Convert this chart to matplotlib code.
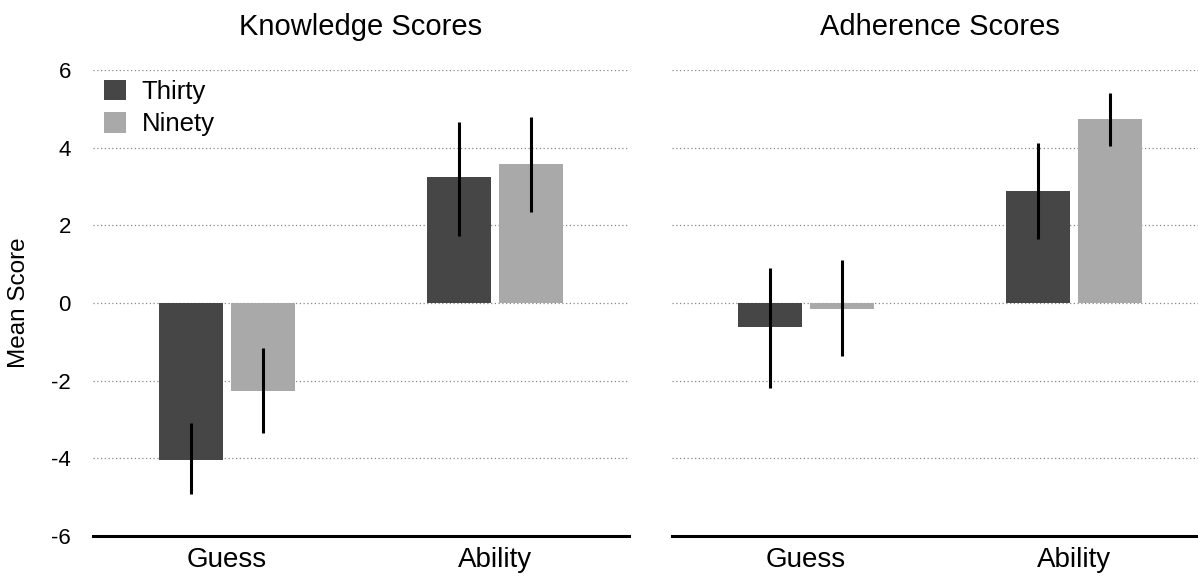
import matplotlib.pyplot as plt
import numpy as np

plt.rcParams['font.family'] = ['Liberation Sans', 'DejaVu Sans']
plt.rcParams['axes.unicode_minus'] = False

groups = ['Guess', 'Ability']
panels = ['Knowledge Scores', 'Adherence Scores']
series = ['Thirty', 'Ninety']
colors = ['#464646', '#a9a9a9']

# bar heights per group
know_thirty = [-4.05, 3.25]
know_ninety = [-2.26, 3.58]
adh_thirty = [-0.61, 2.88]
adh_ninety = [-0.15, 4.74]

# error bar centres and half-lengths
know_thirty_c = [-4.01, 3.20]
know_ninety_c = [-2.26, 3.57]
adh_thirty_c = [-0.65, 2.89]
adh_ninety_c = [-0.13, 4.73]
know_thirty_e = [0.92, 1.47]
know_ninety_e = [1.10, 1.22]
adh_thirty_e = [1.54, 1.23]
adh_ninety_e = [1.23, 0.68]

data = [
    [(know_thirty, know_thirty_c, know_thirty_e), (know_ninety, know_ninety_c, know_ninety_e)],
    [(adh_thirty, adh_thirty_c, adh_thirty_e), (adh_ninety, adh_ninety_c, adh_ninety_e)],
]

fig = plt.figure(figsize=(11.98, 5.78), dpi=100)
W, H = 1198, 578
axes = [
    fig.add_axes([93 / W, (H - 536) / H, 536 / W, 466 / H]),
    fig.add_axes([672 / W, (H - 536) / H, 536 / W, 466 / H]),
]

x = np.arange(len(groups))
width = 0.24
offsets = [-0.135, 0.135]

for i, ax in enumerate(axes):
    for j, (vals, cen, err) in enumerate(data[i]):
        ax.bar(x + offsets[j], vals, width, color=colors[j], label=series[j], zorder=2)
        ax.errorbar(x + offsets[j], cen, yerr=err, fmt='none', ecolor='black',
                    elinewidth=2.2, capsize=0, zorder=3)
    ax.set_xlim(-0.5, 1.5)
    ax.set_ylim(-6, 6)
    ax.set_yticks([-6, -4, -2, 0, 2, 4, 6])
    for yv in [-4, -2, 0, 2, 4, 6]:
        ax.axhline(yv, color='#888888', linestyle=(0, (1, 2)), linewidth=0.9, zorder=1)
    for s in ['top', 'right', 'left']:
        ax.spines[s].set_visible(False)
    ax.spines['bottom'].set_linewidth(2.2)
    ax.set_xticks(x)
    ax.set_xticklabels(groups, fontsize=20)
    ax.tick_params(axis='x', length=0, pad=8)
    ax.tick_params(axis='y', length=0, pad=16, labelsize=16)
    ax.set_title(panels[i], fontsize=21, pad=25)

axes[1].set_yticklabels([])
axes[0].set_ylabel('Mean Score', fontsize=17.5, labelpad=15)
axes[0].legend(loc='upper left', bbox_to_anchor=(-0.008, 1.012), frameon=False,
               fontsize=18.5, handlelength=0.85, handleheight=0.85,
               handletextpad=0.6, labelspacing=0.32, borderaxespad=0.2)

fig.savefig('out.png', dpi=100)
